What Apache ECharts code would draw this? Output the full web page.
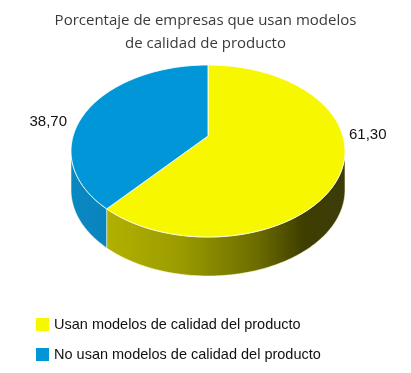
<!DOCTYPE html>
<html>
<head>
<meta charset="utf-8">
<script src="https://cdn.jsdelivr.net/npm/echarts@6/dist/echarts.min.js"></script>
<style>
  html, body { margin: 0; padding: 0; background: #fff; }
  #chart { width: 411px; height: 373px; }
</style>
</head>
<body>
<div id="chart"></div>
<script>
// datos
const categories = ['Usan modelos de calidad del producto', 'No usan modelos de calidad del producto']
const values = [61.30, 38.70]
const valueLabels = ['61,30', '38,70']

// estilos
const topColors = ['#f7f700', '#0096d7']
const sideStops = [
  [[0, '#bcbc00'], [0.4, '#9b9b00'], [0.68, '#6c6c00'], [0.85, '#3e3e00'], [1, '#3c3c0c']],
  [[0, '#0a88c2'], [1, '#006aa0']]
]

// pastel 3D con perspectiva: centro proyectado (cx, cy)
const cx = 208, cy = 136, depth = 39
const k = 0.1744          // factor de perspectiva
const A = 134.9, B = 83.4 // semiejes antes de la perspectiva
const total = values.reduce((a, b) => a + b, 0)
const starts = values.map((v, i) => values.slice(0, i).reduce((a, b) => a + b, 0) / total * Math.PI * 2)
const edgeT = Math.acos(-k) // angulo de la silueta lateral
const xExt = A / Math.sqrt(1 - k * k)
const yMid = cy + B * k / (1 - k * k)

const pt = (t, dy) => {
  const u = Math.sin(t), v = -Math.cos(t), w = 1 - k * v
  return [cx + A * u / w, cy + B * v / w + (dy || 0)]
}

const arc = (a, b, dy) => {
  const pts = []
  const n = Math.max(2, Math.ceil((b - a) / (Math.PI / 180)))
  for (let j = 0; j <= n; j++) pts.push(pt(a + (b - a) * j / n, dy))
  return pts
}

const renderItem = (params, api) => {
  const i = params.seriesIndex
  const start = starts[i]
  const end = start + api.value(0) / total * Math.PI * 2
  const children = []

  // pared lateral (solo la parte frontal)
  const a = Math.max(start, edgeT)
  const b = Math.min(end, Math.PI * 2 - edgeT)
  if (b > a) {
    const top = arc(a, b, 0)
    const bottom = arc(a, b, depth).reverse()
    children.push({
      type: 'polygon',
      shape: { points: top.concat(bottom) },
      style: {
        fill: new echarts.graphic.LinearGradient(cx - xExt, 0, cx + xExt, 0,
          sideStops[i].map(s => ({ offset: s[0], color: s[1] })), true),
        stroke: 'rgba(255,255,220,0.7)',
        lineWidth: 0.8
      }
    })
  }

  // cara superior
  children.push({
    type: 'polygon',
    shape: { points: [[cx, cy]].concat(arc(start, end, 0)) },
    style: { fill: topColors[i], stroke: 'rgba(255,255,255,0.85)', lineWidth: 1 }
  })

  // etiqueta de valor
  const mid = (start + end) / 2
  const right = Math.sin(mid) >= 0
  children.push({
    type: 'text',
    style: {
      text: valueLabels[i],
      x: right ? cx + xExt + 4 : cx - xExt - 4,
      y: right ? yMid - 16 : yMid - 29,
      align: right ? 'left' : 'right',
      verticalAlign: 'middle',
      fill: '#111',
      font: '15px "Liberation Sans", sans-serif'
    }
  })

  return { type: 'group', children }
}

const chart = echarts.init(document.getElementById('chart'))

chart.setOption({
  animation: false,
  title: {
    text: 'Porcentaje de empresas que usan modelos\nde calidad de producto',
    left: 'center',
    top: 4,
    textStyle: {
      fontFamily: 'Open Sans',
      fontSize: 15,
      fontWeight: 'normal',
      color: '#3a3a3a',
      lineHeight: 23
    }
  },
  legend: {
    orient: 'vertical',
    left: 31,
    top: 312,
    icon: 'rect',
    itemWidth: 13,
    itemHeight: 13,
    itemGap: 15,
    selectedMode: false,
    textStyle: { fontFamily: 'Liberation Sans', fontSize: 14.5, color: '#111' },
    data: categories
  },
  series: categories.map((name, i) => ({
    type: 'custom',
    name,
    coordinateSystem: 'none',
    renderItem,
    itemStyle: { color: topColors[i] },
    data: [[values[i]]]
  }))
})
</script>
</body>
</html>
